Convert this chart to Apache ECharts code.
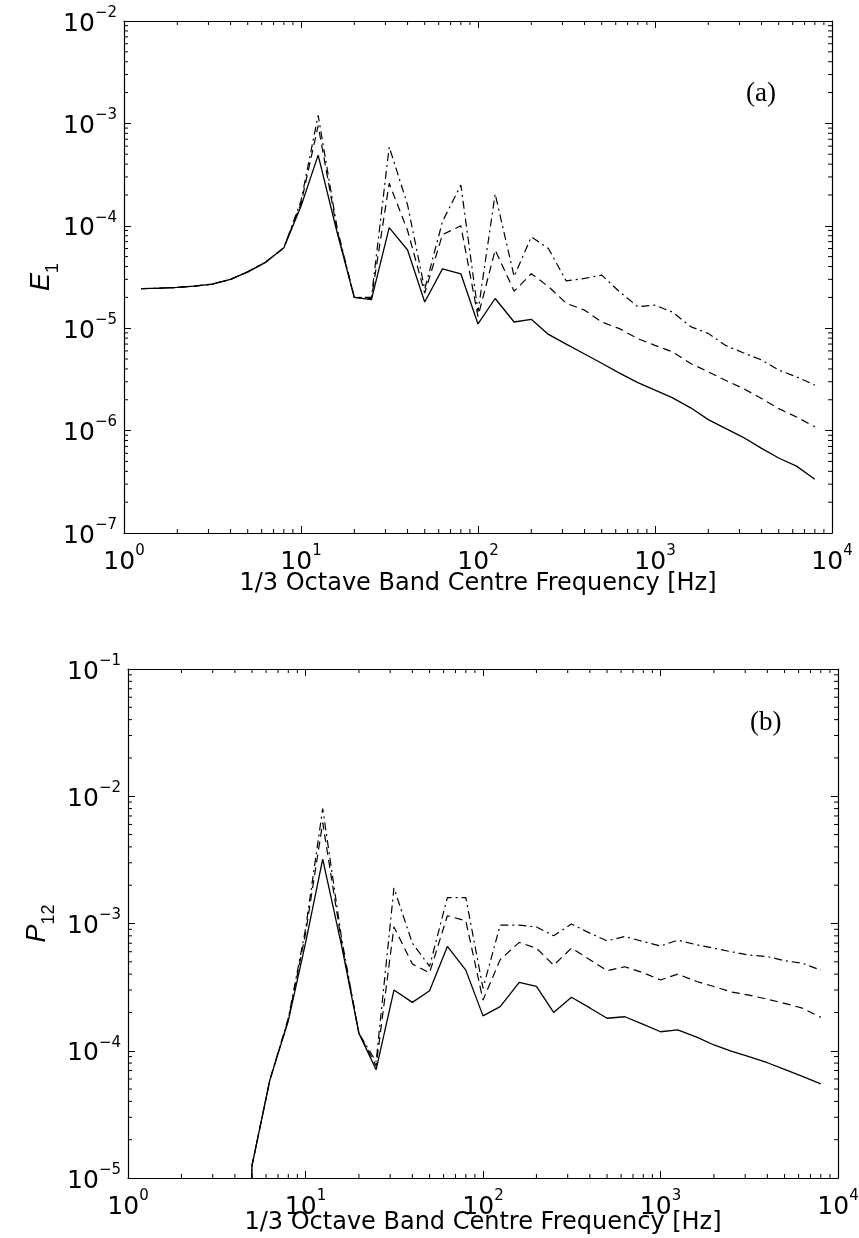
<!DOCTYPE html>
<html><head><meta charset="utf-8">
<script src="https://cdn.jsdelivr.net/npm/echarts@6/dist/echarts.min.js"></script>
<style>html,body{margin:0;padding:0;background:#fff}#c{width:859px;height:1238px}</style>
</head><body><div id="c"></div>
<script>
// 1/3 octave band centre frequencies [Hz]
const freq = [1.25,1.6,2,2.5,3.15,4,5,6.3,8,10,12.5,16,20,25,31.5,40,50,63,80,100,125,160,200,250,315,400,500,630,800,1000,1250,1600,2000,2500,3150,4000,5000,6300,8000];

// Panel (a): E1
const e1Solid = [2.43e-5,2.46e-5,2.5e-5,2.58e-5,2.69e-5,3.0e-5,3.55e-5,4.4e-5,6.1e-5,1.55e-4,4.9e-4,8.6e-5,2.0e-5,1.9e-5,9.6e-5,5.8e-5,1.8e-5,3.8e-5,3.4e-5,1.1e-5,1.95e-5,1.15e-5,1.22e-5,8.7e-6,7.0e-6,5.6e-6,4.55e-6,3.64e-6,2.94e-6,2.48e-6,2.1e-6,1.66e-6,1.28e-6,1.05e-6,8.6e-7,6.7e-7,5.4e-7,4.5e-7,3.35e-7];
const e1Dash = [2.43e-5,2.46e-5,2.5e-5,2.58e-5,2.69e-5,3.0e-5,3.55e-5,4.4e-5,6.1e-5,1.65e-4,9.5e-4,9.0e-5,2.0e-5,1.95e-5,2.6e-4,9.0e-5,2.2e-5,8.2e-5,1.0e-4,1.3e-5,5.8e-5,2.3e-5,3.4e-5,2.55e-5,1.75e-5,1.5e-5,1.15e-5,9.9e-6,7.9e-6,6.8e-6,5.9e-6,4.5e-6,3.75e-6,3.1e-6,2.58e-6,2.06e-6,1.64e-6,1.36e-6,1.09e-6];
const e1DashDot = [2.43e-5,2.46e-5,2.5e-5,2.58e-5,2.69e-5,3.0e-5,3.55e-5,4.4e-5,6.1e-5,1.75e-4,1.2e-3,9.5e-5,2.0e-5,2.0e-5,5.9e-4,1.6e-4,2.4e-5,1.1e-4,2.5e-4,1.45e-5,2.05e-4,3.2e-5,7.8e-5,6.0e-5,2.9e-5,3.06e-5,3.3e-5,2.27e-5,1.62e-5,1.68e-5,1.44e-5,1.03e-5,8.9e-6,6.8e-6,5.75e-6,4.9e-6,3.9e-6,3.35e-6,2.78e-6];

// Panel (b): P12 (no values below 4 Hz; 4 Hz lies far below the axis)
const p12Solid = [null,null,null,null,null,1e-9,1.26e-5,5.9e-5,1.72e-4,7.0e-4,3.2e-3,6.6e-4,1.37e-4,7.1e-5,3.0e-4,2.4e-4,2.96e-4,6.6e-4,4.3e-4,1.88e-4,2.22e-4,3.45e-4,3.2e-4,2.0e-4,2.63e-4,2.17e-4,1.8e-4,1.85e-4,1.61e-4,1.41e-4,1.46e-4,1.28e-4,1.11e-4,9.95e-5,8.98e-5,8.05e-5,7.15e-5,6.3e-5,5.5e-5];
const p12Dash = [null,null,null,null,null,1e-9,1.26e-5,5.9e-5,1.75e-4,8.3e-4,6.2e-3,7.0e-4,1.37e-4,7.6e-5,9.4e-4,4.8e-4,4.1e-4,1.15e-3,1.05e-3,2.5e-4,5.2e-4,7.1e-4,6.4e-4,4.7e-4,6.4e-4,5.2e-4,4.26e-4,4.57e-4,4.1e-4,3.6e-4,4.0e-4,3.5e-4,3.2e-4,2.9e-4,2.74e-4,2.54e-4,2.36e-4,2.16e-4,1.83e-4];
const p12DashDot = [null,null,null,null,null,1e-9,1.26e-5,5.9e-5,1.8e-4,9.0e-4,8.0e-3,7.5e-4,1.37e-4,8.2e-5,1.9e-3,7.0e-4,4.6e-4,1.6e-3,1.6e-3,3.1e-4,9.7e-4,9.7e-4,9.4e-4,8.0e-4,9.9e-4,8.4e-4,7.3e-4,7.9e-4,7.2e-4,6.65e-4,7.4e-4,6.8e-4,6.4e-4,6.0e-4,5.65e-4,5.5e-4,5.1e-4,4.87e-4,4.3e-4];

// Axis ranges (decades)
const xRange = [1, 1e4];
const yRangeA = [1e-7, 1e-2];
const yRangeB = [1e-5, 1e-1];
const xTitle = '1/3 Octave Band Centre Frequency [Hz]';
const panelLabels = ['(a)', '(b)'];

const SANS = 'DejaVu Sans';
const pair = (ys) => freq.map((f, i) => [f, ys[i]]);

function expLabel(v) {
  const e = Math.round(Math.log10(v));
  return '{b|10}{s|' + (e < 0 ? '\u2212' + (-e) : String(e)) + '}';
}
const labRich = {
  b: {fontFamily: SANS, fontSize: 25, color: '#000', lineHeight: 31, verticalAlign: 'bottom'},
  s: {fontFamily: SANS, fontSize: 15, color: '#000', lineHeight: 16, verticalAlign: 'top'}
};

function minorData(xr, yr) {
  const out = [];
  for (let e = Math.log10(xr[0]); e < Math.log10(xr[1]); e++) {
    for (let k = 2; k <= 9; k++) {
      const v = k * Math.pow(10, e);
      out.push([v, yr[0], 0]);
      out.push([v, yr[1], 1]);
    }
  }
  for (let e = Math.round(Math.log10(yr[0])); e < Math.round(Math.log10(yr[1])); e++) {
    for (let k = 2; k <= 9; k++) {
      const v = k * Math.pow(10, e);
      out.push([xr[0], v, 2]);
      out.push([xr[1], v, 3]);
    }
  }
  return out;
}
function renderMinor(params, api) {
  const p = api.coord([api.value(0), api.value(1)]);
  const d = api.value(2), L = 4;
  let x2 = p[0], y2 = p[1];
  if (d === 0) y2 -= L; else if (d === 1) y2 += L; else if (d === 2) x2 += L; else x2 -= L;
  return {type: 'line', shape: {x1: p[0], y1: p[1], x2: x2, y2: y2}, style: {stroke: '#000', lineWidth: 1}};
}

function xAxes(gi, nameGap) {
  return [
    {type: 'log', logBase: 10, gridIndex: gi, min: xRange[0], max: xRange[1], splitNumber: 4, position: 'bottom',
     axisLine: {show: true, lineStyle: {color: '#000', width: 1.2}},
     axisTick: {show: true, inside: true, length: 7, lineStyle: {color: '#000'}},
     splitLine: {show: false}, minorTick: {show: false},
     axisLabel: {formatter: expLabel, rich: labRich, margin: 11, color: '#000'},
     name: xTitle, nameLocation: 'middle', nameGap: nameGap, nameMoveOverlap: false,
     nameTextStyle: {fontFamily: SANS, fontSize: 24, color: '#000'}},
    {type: 'log', logBase: 10, gridIndex: gi, min: xRange[0], max: xRange[1], splitNumber: 4, position: 'top',
     axisLine: {show: true, lineStyle: {color: '#000', width: 1.2}},
     axisTick: {show: true, inside: true, length: 7, lineStyle: {color: '#000'}},
     splitLine: {show: false}, axisLabel: {show: false}}
  ];
}
function yAxes(gi, yr, name, nameGap) {
  const n = Math.round(Math.log10(yr[1]) - Math.log10(yr[0]));
  return [
    {type: 'log', logBase: 10, gridIndex: gi, min: yr[0], max: yr[1], splitNumber: n, position: 'left',
     axisLine: {show: true, lineStyle: {color: '#000', width: 1.2}},
     axisTick: {show: true, inside: true, length: 7, lineStyle: {color: '#000'}},
     splitLine: {show: false},
     axisLabel: {formatter: expLabel, rich: labRich, margin: 7, color: '#000'},
     name: name, nameLocation: 'middle', nameRotate: 90, nameGap: nameGap, nameMoveOverlap: false,
     nameTextStyle: {rich: {
       i: {fontFamily: 'Liberation Sans', fontStyle: 'italic', fontSize: 27, color: '#000', lineHeight: 34, verticalAlign: 'top'},
       sub: {fontFamily: 'Liberation Sans', fontSize: 18, color: '#000', lineHeight: 34, verticalAlign: 'bottom'}
     }}},
    {type: 'log', logBase: 10, gridIndex: gi, min: yr[0], max: yr[1], splitNumber: n, position: 'right',
     axisLine: {show: true, lineStyle: {color: '#000', width: 1.2}},
     axisTick: {show: true, inside: true, length: 7, lineStyle: {color: '#000'}},
     splitLine: {show: false}, axisLabel: {show: false}}
  ];
}

const solidStyle = {color: '#000', width: 1.3, type: 'solid'};
const dashStyle = {color: '#000', width: 1.2, type: [8, 5]};
const dashDotStyle = {color: '#000', width: 1.2, type: [8, 4, 2, 4]};
function lineSeries(name, xi, yi, ys, style) {
  return {name: name, type: 'line', xAxisIndex: xi, yAxisIndex: yi, data: pair(ys), showSymbol: false,
          symbol: 'none', lineStyle: style, connectNulls: false, clip: true, silent: true, animation: false};
}

const chart = echarts.init(document.getElementById('c'), null, {renderer: 'canvas'});
chart.setOption({
  backgroundColor: '#fff',
  animation: false,
  title: [
    {text: panelLabels[0], left: 741, top: 75, textStyle: {fontFamily: 'Liberation Serif', fontSize: 27, fontWeight: 'normal', color: '#000'}},
    {text: panelLabels[1], left: 745, top: 704, textStyle: {fontFamily: 'Liberation Serif', fontSize: 27, fontWeight: 'normal', color: '#000'}}
  ],
  grid: [
    {left: 124, top: 21, width: 708, height: 512, containLabel: false, outerBoundsMode: 'none'},
    {left: 128, top: 669, width: 710, height: 509, containLabel: false, outerBoundsMode: 'none'}
  ],
  xAxis: [...xAxes(0, 39), ...xAxes(1, 33)],
  yAxis: [...yAxes(0, yRangeA, '{i|E}{sub|1}', 62), ...yAxes(1, yRangeB, '{i|P}{sub|12}', 70)],
  series: [
    lineSeries('E1 solid', 0, 0, e1Solid, solidStyle),
    lineSeries('E1 dashed', 0, 0, e1Dash, dashStyle),
    lineSeries('E1 dash-dot', 0, 0, e1DashDot, dashDotStyle),
    lineSeries('P12 solid', 2, 2, p12Solid, solidStyle),
    lineSeries('P12 dashed', 2, 2, p12Dash, dashStyle),
    lineSeries('P12 dash-dot', 2, 2, p12DashDot, dashDotStyle),
    {type: 'custom', xAxisIndex: 0, yAxisIndex: 0, data: minorData(xRange, yRangeA), renderItem: renderMinor, clip: false, silent: true},
    {type: 'custom', xAxisIndex: 2, yAxisIndex: 2, data: minorData(xRange, yRangeB), renderItem: renderMinor, clip: false, silent: true}
  ]
});
</script>
</body></html>
